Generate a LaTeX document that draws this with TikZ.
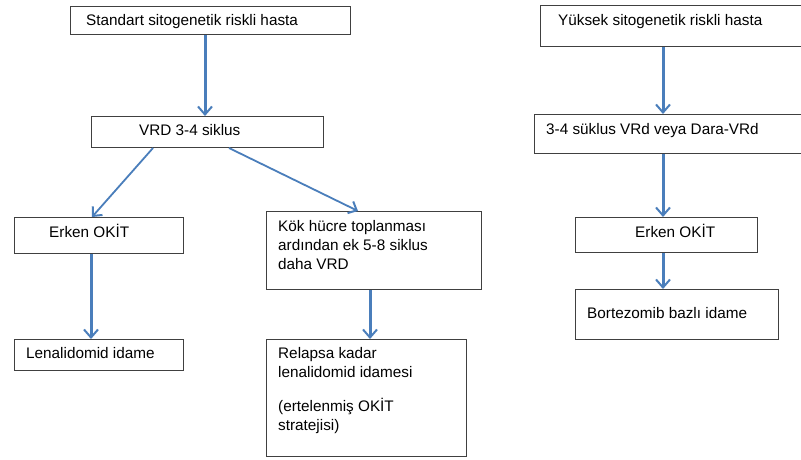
\documentclass[tikz,border=0pt]{standalone}
\usepackage{fontspec}
\setmainfont{Liberation Sans}
\usetikzlibrary{arrows.meta}
\definecolor{arrblue}{HTML}{4A7EBB}
\begin{document}
\begin{tikzpicture}[x=1pt,y=-1pt,
  box/.style={draw=black!75,line width=1pt,fill=white,inner sep=0pt,anchor=north west},
  txt/.style={anchor=base west,inner sep=0pt,font=\fontsize{15.3}{18}\selectfont},
  arr/.style={draw=arrblue,line width=3pt,-{Straight Barb[length=8pt,width=14pt,line width=2pt]}},
  arrd/.style={draw=arrblue,line width=1.8pt,-{Straight Barb[length=7pt,width=13pt,line width=2pt]}}]
\useasboundingbox (0,0) rectangle (801,459);
% left column boxes
\node[box,minimum width=280pt,minimum height=28pt] (b1) at (70,6) {};
\node[txt] (t1) at (86,25) {Standart sitogenetik riskli hasta};
\node[box,minimum width=232pt,minimum height=31pt] (b2) at (91,116) {};
\node[txt] (t2) at (139,135) {VRD 3-4 siklus};
\node[box,minimum width=169pt,minimum height=36pt] (b3) at (14,217) {};
\node[txt] (t3) at (49,237) {Erken OKİT};
\node[box,minimum width=215pt,minimum height=78pt] (b4) at (266,211) {};
\node[txt] (t4a) at (278,231) {Kök hücre toplanması};
\node[txt] (t4b) at (278,250) {ardından ek 5-8 siklus};
\node[txt] (t4c) at (278,269) {daha VRD};
\node[box,minimum width=169pt,minimum height=31pt] (b5) at (14,339) {};
\node[txt] (t5) at (26,358) {Lenalidomid idame};
\node[box,minimum width=200pt,minimum height=117pt] (b6) at (266,339) {};
\node[txt] (t6a) at (278,358) {Relapsa kadar};
\node[txt] (t6b) at (278,377) {lenalidomid idamesi};
\node[txt] (t6c) at (278,411) {(ertelenmiş OKİT};
\node[txt] (t6d) at (278,430) {stratejisi)};
% right column boxes
\node[box,minimum width=262pt,minimum height=41pt] (r1) at (540,5) {};
\node[txt] (s1) at (558,25) {Yüksek sitogenetik riskli hasta};
\node[box,minimum width=268pt,minimum height=39pt] (r2) at (534,114) {};
\node[txt] (s2) at (546,134) {3-4 süklus VRd veya Dara-VRd};
\node[box,minimum width=182pt,minimum height=35pt] (r3) at (575,217) {};
\node[txt] (s3) at (635,237) {Erken OKİT};
\node[box,minimum width=203pt,minimum height=50pt] (r4) at (575,289) {};
\node[txt] (s4) at (587,318) {Bortezomib bazlı idame};
% arrows
\draw[arr] (b1.south -| 205,0) -- (b2.north -| 205,0);
\draw[arrd] (b2.south -| 153,0) -- (b3.north -| 92,0);
\draw[arrd] (b2.south -| 229,0) -- (b4.north -| 358,0);
\draw[arr] (b3.south -| 91,0) -- (b5.north -| 91,0);
\draw[arr] (b4.south -| 370,0) -- (b6.north -| 370,0);
\draw[arr] (r1.south -| 663,0) -- (r2.north -| 663,0);
\draw[arr] (r2.south -| 663,0) -- (r3.north -| 663,0);
\draw[arr] (r3.south -| 663,0) -- (r4.north -| 663,0);
\end{tikzpicture}
\end{document}
